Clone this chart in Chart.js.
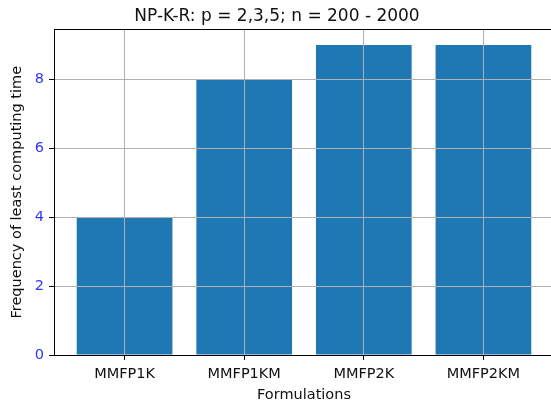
<!DOCTYPE html>
<html>
<head>
<meta charset="utf-8">
<script src="https://cdn.jsdelivr.net/npm/chart.js@4.4.1/dist/chart.umd.min.js"></script>
<style>
    body { margin: 0; overflow: hidden; background: #fff; }
</style>
</head>
<body>
<canvas id="frecuenciaChart" width="554" height="408"></canvas>
<script>
const formulaciones = ['MMFP1K', 'MMFP1KM', 'MMFP2K', 'MMFP2KM'];
const frecuencias = [4, 8, 9, 9];
const yTicks = [0, 2, 4, 6, 8];

// marco del area (las cuatro lineas del eje)
const marcoPlugin = {
    id: 'marco',
    afterDraw(chart) {
        const { ctx, chartArea } = chart;
        ctx.save();
        ctx.strokeStyle = '#000';
        ctx.lineWidth = 1;
        ctx.strokeRect(Math.round(chartArea.left) + 0.5, Math.round(chartArea.top) + 0.5,
            Math.round(chartArea.right - chartArea.left), Math.round(chartArea.bottom - chartArea.top));
        ctx.restore();
    }
};

const ctx = document.getElementById('frecuenciaChart').getContext('2d');

new Chart(ctx, {
    type: 'bar',
    data: {
        datasets: [{
            label: 'Frecuencia',
            data: frecuencias.map((v, i) => ({ x: i, y: v })),
            backgroundColor: '#1f77b4',
            borderWidth: 0,
            barPercentage: 0.8,
            categoryPercentage: 1.0
        }]
    },
    options: {
        responsive: false,
        animation: false,
        layout: { padding: { left: 0, right: 0, top: 0, bottom: 0 } },
        plugins: {
            legend: { display: false },
            tooltip: { enabled: false },
            title: {
                display: true,
                text: 'NP-K-R: p = 2,3,5; n = 200 - 2000',
                color: '#111',
                font: { family: 'DejaVu Sans', size: 17, weight: 'normal' },
                padding: { top: 6, bottom: 3 }
            }
        },
        scales: {
            x: {
                type: 'linear',
                min: -0.59,
                max: 3.59,
                offset: false,
                afterBuildTicks: scale => {
                    scale.ticks = formulaciones.map((f, i) => ({ value: i }));
                },
                afterFit: scale => { scale.height = 53; },
                ticks: {
                    color: '#111',
                    font: { family: 'DejaVu Sans', size: 14.5 },
                    padding: 6,
                    callback: value => formulaciones[value]
                },
                grid: {
                    z: 1,
                    offset: false,
                    color: '#b0b0b0',
                    lineWidth: 1,
                    tickColor: '#000',
                    tickLength: 5
                },
                border: { display: false },
                title: {
                    display: true,
                    text: 'Formulations',
                    color: '#111',
                    font: { family: 'DejaVu Sans', size: 14.5 },
                    padding: { top: 0, bottom: 4 }
                }
            },
            y: {
                min: 0,
                max: 9.45,
                afterBuildTicks: scale => {
                    scale.ticks = yTicks.map(v => ({ value: v }));
                },
                afterFit: scale => { scale.width = 54; },
                ticks: {
                    color: '#3333ff',
                    font: { family: 'DejaVu Sans', size: 14.5 },
                    padding: 5
                },
                grid: {
                    z: 1,
                    color: '#b0b0b0',
                    lineWidth: 1,
                    tickColor: '#000',
                    tickLength: 5
                },
                border: { display: false },
                title: {
                    display: true,
                    text: 'Frequency of least computing time',
                    color: '#111',
                    font: { family: 'DejaVu Sans', size: 14.5 },
                    padding: { top: 8.8, bottom: 0 }
                }
            }
        }
    },
    plugins: [marcoPlugin]
});
</script>
</body>
</html>
